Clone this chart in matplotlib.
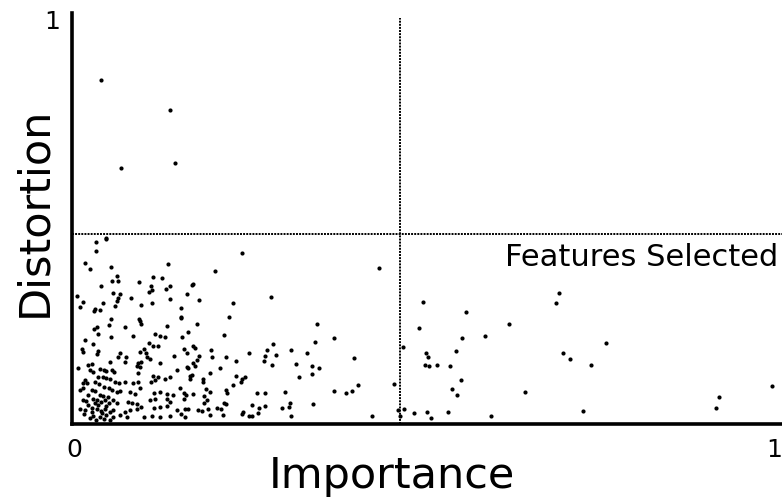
import matplotlib
matplotlib.use("Agg")
import matplotlib.pyplot as plt

# importance / distortion of each feature
importance = [
    0.041, 0.139, 0.070, 0.147, 0.048, 0.034, 0.048, 0.034, 0.018, 0.026,
    0.056, 0.137, 0.064, 0.057, 0.065, 0.115, 0.128, 0.096, 0.042, 0.113,
    0.140, 0.134, 0.114, 0.109, 0.058, 0.069, 0.164, 0.084, 0.065, 0.064,
    0.139, 0.015, 0.012, 0.044, 0.099, 0.114, 0.061, 0.155, 0.033, 0.032,
    0.040, 0.056, 0.096, 0.097, 0.099, 0.052, 0.076, 0.035, 0.032, 0.135,
    0.007, 0.242, 0.203, 0.438, 0.173, 0.171, 0.181, 0.230, 0.284, 0.155,
    0.155, 0.223, 0.178, 0.349, 0.165, 0.156, 0.216, 0.373, 0.346, 0.287,
    0.160, 0.172, 0.175, 0.198, 0.164, 0.278, 0.312, 0.252, 0.335, 0.181,
    0.199, 0.220, 0.275, 0.291, 0.178, 0.173, 0.234, 0.273, 0.402, 0.164,
    0.165, 0.175, 0.211, 0.285, 0.319, 0.342, 0.352, 0.197, 0.171, 0.168,
    0.168, 0.234, 0.247, 0.242, 0.241, 0.187, 0.187, 0.324, 0.342, 0.154,
    0.230, 0.407, 0.458, 0.191, 0.219, 0.196, 0.221, 0.264, 0.275, 0.304,
    0.373, 0.391, 0.399, 0.162, 0.172, 0.188, 0.160, 0.192, 0.188, 0.216,
    0.220, 0.256, 0.275, 0.310, 0.309, 0.343, 0.267, 0.299, 0.161, 0.165,
    0.180, 0.185, 0.194, 0.206, 0.212, 0.265, 0.244, 0.242, 0.256, 0.252,
    0.215, 0.197, 0.161, 0.312, 0.428, 0.464, 0.473, 0.471, 0.500, 0.495,
    0.504, 0.507, 0.503, 0.509, 0.520, 0.561, 0.556, 0.547, 0.539, 0.554,
    0.542, 0.548, 0.487, 0.505, 0.535, 0.588, 0.623, 0.646, 0.597, 0.694,
    0.689, 0.699, 0.710, 0.739, 0.761, 0.728, 0.921, 0.917, 0.997, 0.467,
    0.512, 0.037, 0.055, 0.087, 0.118, 0.125, 0.132, 0.019, 0.030, 0.014,
    0.015, 0.110, 0.116, 0.123, 0.102, 0.069, 0.037, 0.035, 0.097, 0.106,
    0.145, 0.066, 0.077, 0.107, 0.111, 0.054, 0.075, 0.094, 0.099, 0.093,
    0.097, 0.125, 0.023, 0.028, 0.009, 0.026, 0.030, 0.040, 0.045, 0.049,
    0.057, 0.060, 0.094, 0.116, 0.122, 0.149, 0.019, 0.016, 0.021, 0.037,
    0.044, 0.049, 0.054, 0.033, 0.039, 0.045, 0.052, 0.061, 0.067, 0.075,
    0.087, 0.094, 0.112, 0.118, 0.132, 0.140, 0.011, 0.015, 0.028, 0.033,
    0.057, 0.064, 0.068, 0.083, 0.090, 0.097, 0.117, 0.125, 0.136, 0.144,
    0.159, 0.016, 0.020, 0.030, 0.036, 0.041, 0.047, 0.052, 0.059, 0.064,
    0.080, 0.085, 0.092, 0.111, 0.118, 0.135, 0.139, 0.011, 0.019, 0.028,
    0.035, 0.041, 0.047, 0.054, 0.059, 0.075, 0.083, 0.092, 0.099, 0.117,
    0.125, 0.135, 0.149, 0.155, 0.030, 0.040, 0.049, 0.059, 0.068, 0.078,
    0.102, 0.114, 0.125, 0.140, 0.023, 0.028, 0.037, 0.043, 0.048, 0.026,
    0.034, 0.046, 0.054, 0.017, 0.023, 0.040, 0.051, 0.033, 0.044,
]
distortion = [
    0.851, 0.777, 0.634, 0.647, 0.460, 0.451, 0.458, 0.429, 0.399, 0.384,
    0.389, 0.395, 0.367, 0.355, 0.355, 0.364, 0.361, 0.351, 0.342, 0.342,
    0.342, 0.334, 0.332, 0.327, 0.325, 0.322, 0.321, 0.313, 0.313, 0.304,
    0.309, 0.303, 0.290, 0.300, 0.295, 0.300, 0.292, 0.287, 0.285, 0.280,
    0.282, 0.259, 0.259, 0.255, 0.248, 0.244, 0.239, 0.239, 0.236, 0.243,
    0.316, 0.424, 0.379, 0.387, 0.347, 0.343, 0.306, 0.299, 0.314, 0.266,
    0.262, 0.265, 0.247, 0.248, 0.228, 0.216, 0.220, 0.212, 0.204, 0.199,
    0.186, 0.192, 0.189, 0.184, 0.176, 0.183, 0.184, 0.176, 0.176, 0.169,
    0.165, 0.166, 0.169, 0.172, 0.159, 0.152, 0.157, 0.156, 0.163, 0.142,
    0.139, 0.144, 0.139, 0.145, 0.149, 0.144, 0.139, 0.127, 0.121, 0.119,
    0.111, 0.119, 0.117, 0.111, 0.104, 0.111, 0.105, 0.116, 0.124, 0.090,
    0.096, 0.097, 0.099, 0.087, 0.083, 0.078, 0.076, 0.077, 0.076, 0.078,
    0.081, 0.077, 0.082, 0.073, 0.074, 0.069, 0.063, 0.059, 0.051, 0.053,
    0.050, 0.046, 0.044, 0.051, 0.043, 0.050, 0.040, 0.039, 0.038, 0.037,
    0.034, 0.033, 0.038, 0.039, 0.037, 0.026, 0.030, 0.025, 0.021, 0.021,
    0.022, 0.022, 0.018, 0.021, 0.021, 0.034, 0.037, 0.191, 0.301, 0.238,
    0.176, 0.167, 0.146, 0.144, 0.147, 0.276, 0.212, 0.181, 0.144, 0.109,
    0.086, 0.073, 0.027, 0.030, 0.030, 0.218, 0.248, 0.080, 0.021, 0.324,
    0.300, 0.176, 0.162, 0.146, 0.201, 0.032, 0.067, 0.040, 0.095, 0.020,
    0.015, 0.223, 0.216, 0.218, 0.223, 0.218, 0.216, 0.208, 0.197, 0.185,
    0.179, 0.201, 0.193, 0.194, 0.185, 0.175, 0.181, 0.173, 0.179, 0.175,
    0.168, 0.165, 0.167, 0.165, 0.161, 0.153, 0.153, 0.150, 0.153, 0.144,
    0.142, 0.150, 0.146, 0.148, 0.139, 0.134, 0.129, 0.135, 0.134, 0.131,
    0.134, 0.128, 0.127, 0.119, 0.116, 0.134, 0.109, 0.101, 0.101, 0.117,
    0.116, 0.113, 0.111, 0.105, 0.099, 0.092, 0.088, 0.105, 0.101, 0.105,
    0.102, 0.105, 0.105, 0.109, 0.111, 0.116, 0.084, 0.088, 0.084, 0.082,
    0.084, 0.080, 0.082, 0.078, 0.074, 0.088, 0.076, 0.080, 0.074, 0.072,
    0.077, 0.059, 0.057, 0.063, 0.059, 0.055, 0.059, 0.053, 0.059, 0.053,
    0.055, 0.051, 0.050, 0.059, 0.062, 0.061, 0.055, 0.036, 0.035, 0.039,
    0.036, 0.033, 0.036, 0.030, 0.035, 0.030, 0.035, 0.036, 0.041, 0.039,
    0.041, 0.045, 0.035, 0.025, 0.020, 0.018, 0.022, 0.018, 0.022, 0.018,
    0.018, 0.020, 0.018, 0.020, 0.047, 0.030, 0.047, 0.027, 0.045, 0.015,
    0.010, 0.012, 0.010, 0.025, 0.072, 0.072, 0.067, 0.052, 0.069,
]

importance_cut = 0.467
distortion_cut = 0.470

fig = plt.figure(figsize=(7.82, 4.99), dpi=100)
ax = fig.add_axes([72 / 782, 75 / 499, 710 / 782, 411 / 499])
ax.set_xlim(0, 1.0114)
ax.set_ylim(0, 1.0173)

ax.scatter(importance, distortion, s=9, c="black", linewidths=0, zorder=3)

# selection thresholds
dotted = (0, (1, 0.6))
ax.plot([importance_cut, importance_cut], [0, 1.005], color="black",
        lw=1.4, linestyle=dotted)
ax.axhline(distortion_cut, color="black", lw=1.4, linestyle=dotted)

for side in ("top", "right"):
    ax.spines[side].set_visible(False)
for side in ("left", "bottom"):
    ax.spines[side].set_linewidth(2.6)
ax.set_xticks([])
ax.set_yticks([])

ax.text(0.004, -0.0817, "0", ha="center", va="baseline", fontsize=18)
ax.text(1.0, -0.0817, "1", ha="center", va="baseline", fontsize=18)
ax.text(-0.0285, 0.978, "1", ha="center", va="baseline", fontsize=18)

ax.text(1.0055, 0.39, "Features Selected", ha="right", va="baseline",
        fontsize=22)

fig.text(392 / 782, 11 / 499, "Importance", ha="center", va="baseline",
         fontsize=31)
fig.text(46 / 782, 287 / 499, "Distortion", rotation=90, rotation_mode="anchor",
         ha="center", va="baseline", fontsize=31)

fig.savefig("out.png", dpi=100)
